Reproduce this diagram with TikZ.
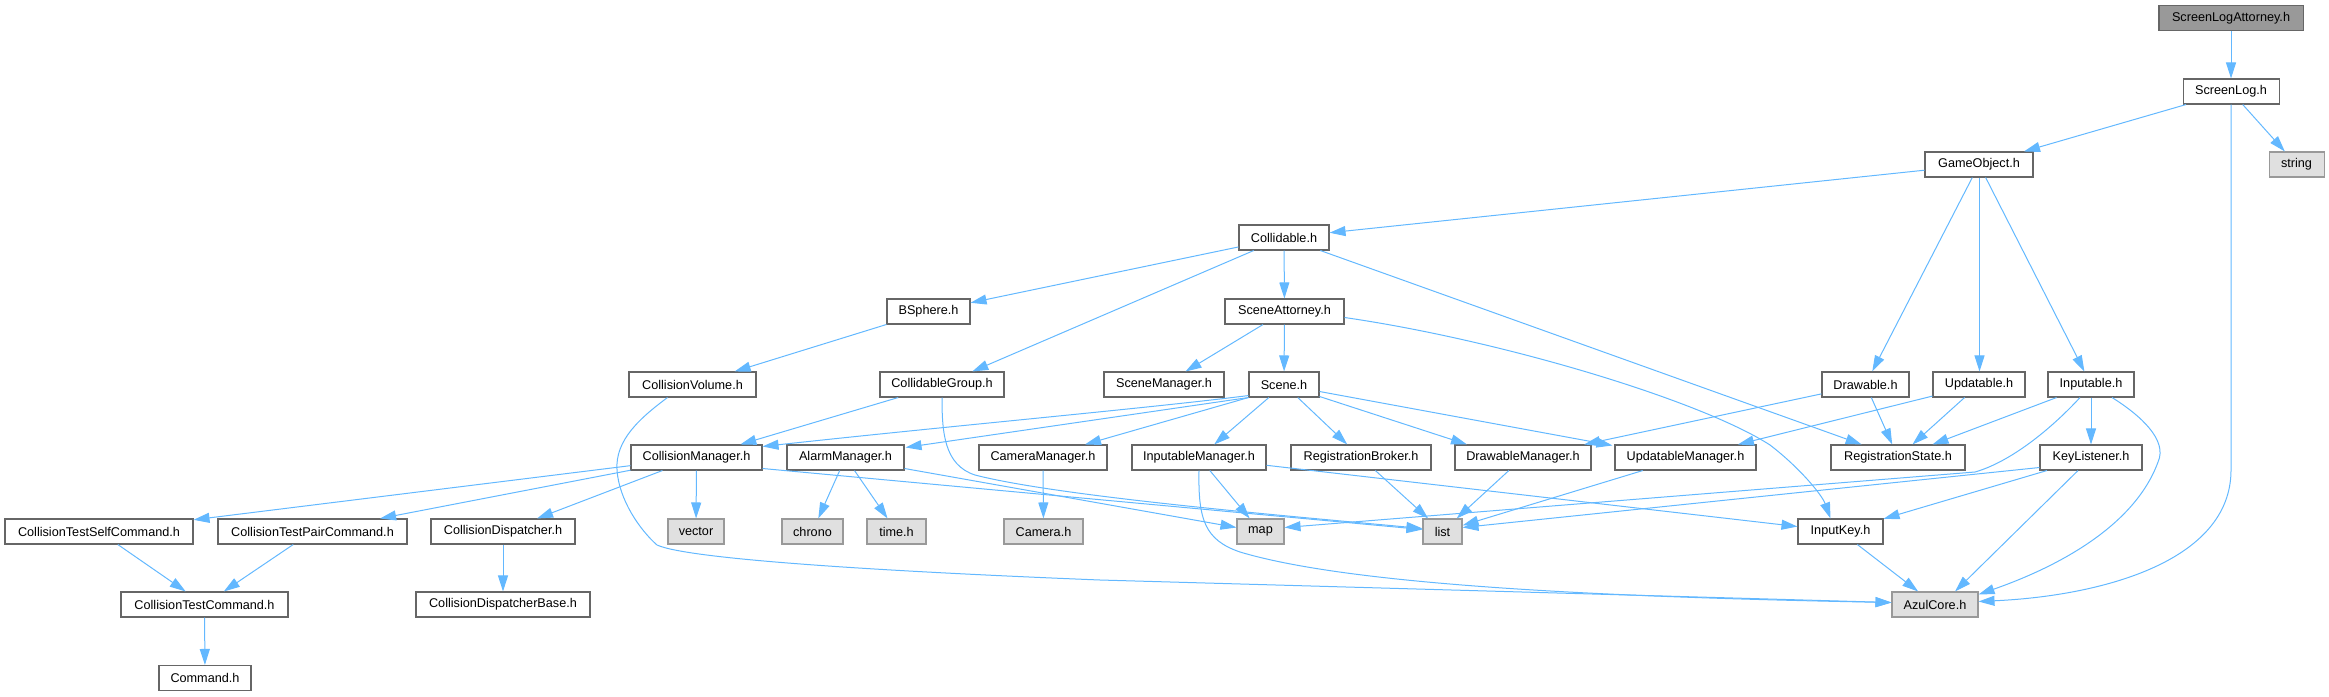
\documentclass[tikz,border=0pt]{standalone}
\usepackage{fontspec}
\setmainfont{Liberation Sans}
\usetikzlibrary{arrows.meta,calc}
\definecolor{edgeblue}{HTML}{63B8FF}
\definecolor{cdark}{HTML}{666666}
\definecolor{cmid}{HTML}{999999}
\definecolor{clight}{HTML}{E0E0E0}
\tikzset{
  box/.style={draw=cdark, line width=0.8pt, fill=white, minimum height=18.75pt, inner sep=0pt, font=\fontsize{9.5}{11}\selectfont},
  extbox/.style={box, fill=clight, draw=cmid},
  rootbox/.style={box, fill=cmid, draw=cdark},
  edge/.style={draw=edgeblue, line width=0.75pt, -{Triangle[length=12pt,width=7.5pt]}}
}
\begin{document}
\begin{tikzpicture}[x=0.75pt,y=-0.75pt]
\useasboundingbox (0,0) rectangle (2329,696);
% nodes
\node[rootbox, minimum width=108pt] (sla) at (2231,18) {ScreenLogAttorney.h};
\node[box, minimum width=72pt] (sl) at (2231,91.5) {ScreenLog.h};
\node[box, minimum width=81pt] (go) at (1979,164.5) {GameObject.h};
\node[extbox, minimum width=41.25pt] (str) at (2296.5,164.5) {string};
\node[box, minimum width=67.5pt] (col) at (1284,237.5) {Collidable.h};
\node[box, minimum width=62.25pt] (bs) at (928.5,311.5) {BSphere.h};
\node[box, minimum width=89.25pt] (sa) at (1284.5,311.5) {SceneAttorney.h};
\node[box, minimum width=95.25pt] (cv) at (692.5,384.5) {CollisionVolume.h};
\node[box, minimum width=93pt] (cg) at (942,384.5) {CollidableGroup.h};
\node[box, minimum width=90pt] (sm) at (1164,384.5) {SceneManager.h};
\node[box, minimum width=52.5pt] (sc) at (1284,384.5) {Scene.h};
\node[box, minimum width=65.25pt] (dr) at (1865.5,384.5) {Drawable.h};
\node[box, minimum width=69pt] (up) at (1979,384.5) {Updatable.h};
\node[box, minimum width=64.5pt] (inp) at (2091,384.5) {Inputable.h};
\node[box, minimum width=98.25pt] (cm) at (696.5,457.5) {CollisionManager.h};
\node[box, minimum width=87.75pt] (am) at (845.5,457.5) {AlarmManager.h};
\node[box, minimum width=96pt] (cam) at (1043,457.5) {CameraManager.h};
\node[box, minimum width=100.5pt] (im) at (1199,457.5) {InputableManager.h};
\node[box, minimum width=105pt] (rb) at (1361,457.5) {RegistrationBroker.h};
\node[box, minimum width=102pt] (dm) at (1523,457.5) {DrawableManager.h};
\node[box, minimum width=105.75pt] (um) at (1685.5,457.5) {UpdatableManager.h};
\node[box, minimum width=100.5pt] (rs) at (1898,457.5) {RegistrationState.h};
\node[box, minimum width=76.5pt] (kl) at (2091,457.5) {KeyListener.h};
\node[box, minimum width=141pt] (ctsc) at (99,531.5) {CollisionTestSelfCommand.h};
\node[box, minimum width=141.75pt] (ctpc) at (312.5,531.5) {CollisionTestPairCommand.h};
\node[box, minimum width=108pt] (cd) at (503,531.5) {CollisionDispatcher.h};
\node[extbox, minimum width=42pt] (vec) at (696,531.5) {vector};
\node[extbox, minimum width=45.75pt] (chr) at (812.5,531.5) {chrono};
\node[extbox, minimum width=44.25pt] (tim) at (896.5,531.5) {time.h};
\node[extbox, minimum width=59.25pt] (camh) at (1043.5,531.5) {Camera.h};
\node[extbox, minimum width=35.25pt] (map) at (1260.5,531.5) {map};
\node[extbox, minimum width=29.25pt] (lst) at (1442.5,531.5) {list};
\node[box, minimum width=63.75pt] (ik) at (1840.5,531.5) {InputKey.h};
\node[box, minimum width=125.25pt] (ctc) at (204.5,604.5) {CollisionTestCommand.h};
\node[box, minimum width=130.5pt] (cdb) at (503,604.5) {CollisionDispatcherBase.h};
\node[extbox, minimum width=64.5pt] (az) at (1935,604.5) {AzulCore.h};
\node[box, minimum width=69pt] (cmd) at (205,678) {Command.h};
% edges
\draw[edge] (sla) -- (sl);
\draw[edge] (sl) -- (go);
\draw[edge] (sl) -- (str);
\draw[edge] (sl.south) -- (2231,470) .. controls (2231,562) and (2100,596) .. ($(az.east)+(0,-3)$);
\draw[edge] (go) -- (col);
\draw[edge] (go) -- (dr);
\draw[edge] ($(go.south)+(0.5,0)$) -- ($(up.north)+(0.5,0)$);
\draw[edge] (go) -- (inp);
\draw[edge] (col) -- (bs);
\draw[edge] (col) -- (cg);
\draw[edge] (col) -- (sa);
\draw[edge] (col) -- (rs);
\draw[edge] (bs) -- (cv);
\draw[edge] ($(cv.south)+(-25,0)$) .. controls (640,418) and (615,440) .. (617,470) .. controls (619,500) and (640,530) .. (657,545) .. controls (690,560) and (900,572) .. (1100,580) -- ($(az.west)+(0,-2)$);
\draw[edge] (cg) -- (cm);
\draw[edge] (cg.south) .. controls (942,432) and (944,465) .. (975,475) .. controls (1060,497) and (1300,517) .. ($(lst.west)+(0,-3)$);
\draw[edge] (sa) -- (sm);
\draw[edge] (sa) -- (sc);
\draw[edge] ($(sa.east)+(0,6)$) .. controls (1500,340) and (1700,400) .. (1770,445) .. controls (1800,468) and (1822,495) .. ($(ik.north)+(-10,0)$);
\draw[edge] ($(sc.south west)+(0,-2)$) .. controls (1150,408) and (950,426) .. ($(cm.north east)+(0,2)$);
\draw[edge] (sc.south west) -- ($(am.north east)+(1,3)$);
\draw[edge] (sc.south west) -- ($(cam.north)+(42,0)$);
\draw[edge] (sc) -- (im);
\draw[edge] (sc) -- (rb);
\draw[edge] ($(sc.east)+(0,12)$) -- ($(dm.north)+(-56,0)$);
\draw[edge] ($(sc.east)+(0,7)$) -- ($(um.north west)+(-2,1)$);
\draw[edge] (dr) -- (dm);
\draw[edge] (dr) -- (rs);
\draw[edge] (up) -- (um);
\draw[edge] (up) -- (rs);
\draw[edge] (inp) -- (rs);
\draw[edge] (inp) -- (kl);
\draw[edge] ($(inp.south)+(-11,0)$) .. controls (2050,430) and (2010,462) .. (1975,472) -- ($(map.east)+(0,-4)$);
\draw[edge] ($(inp.south)+(21,0)$) .. controls (2140,415) and (2168,440) .. (2158,462) .. controls (2135,525) and (2060,566) .. ($(az.north east)+(0,3)$);
\draw[edge] ($(kl.south)+(-13,0)$) -- ($(az.north)+(20,0)$);
\draw[edge] (ik) -- (az);
\draw[edge] (cm) -- (ctsc);
\draw[edge] (cm) -- (ctpc);
\draw[edge] (cm) -- (cd);
\draw[edge] (cm) -- (vec);
\draw[edge] ($(cm.east)+(0,11)$) -- ($(lst.west)+(0,-2)$);
\draw[edge] (am) -- (chr);
\draw[edge] (am) -- (tim);
\draw[edge] ($(am.east)+(0,11)$) -- ($(map.west)+(0,-4)$);
\draw[edge] (cam) -- (camh);
\draw[edge] (im) -- (map);
\draw[edge] (im.south) .. controls (1198,520) and (1205,540) .. (1240,552) .. controls (1350,585) and (1600,597) .. ($(az.west)+(0,-2)$);
\draw[edge] (im) -- (ik);
\draw[edge] (rb) -- (lst);
\draw[edge] (dm) -- (lst);
\draw[edge] (um) -- (lst);
\draw[edge] ($(kl.west)+(0,10)$) -- ($(lst.east)+(0,-4)$);
\draw[edge] (kl) -- (ik);
\draw[edge] (ctsc) -- (ctc);
\draw[edge] (ctpc) -- (ctc);
\draw[edge] (cd) -- (cdb);
\draw[edge] (ctc) -- (cmd);
\end{tikzpicture}
\end{document}
